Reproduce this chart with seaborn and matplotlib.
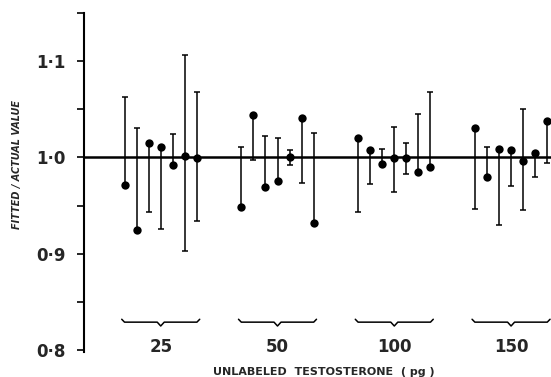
import numpy as np
import pandas as pd
import seaborn as sns
import matplotlib.pyplot as plt

# Fitted / actual ratios, 7 replicate curves per dose of unlabeled testosterone
doses = ['25', '50', '100', '150']

ratio_25 = [0.971, 0.925, 1.015, 1.011, 0.992, 1.001, 0.999]
low_25 = [0.971, 0.925, 0.943, 0.926, 0.992, 0.903, 0.934]
high_25 = [1.063, 1.031, 1.015, 1.011, 1.024, 1.106, 1.068]

ratio_50 = [0.949, 1.044, 0.969, 0.976, 1.000, 1.041, 0.932]
low_50 = [0.949, 0.997, 0.969, 0.976, 0.992, 0.973, 0.932]
high_50 = [1.011, 1.044, 1.022, 1.020, 1.008, 1.041, 1.025]

ratio_100 = [1.020, 1.008, 0.993, 0.999, 0.999, 0.985, 0.990]
low_100 = [0.943, 0.972, 0.993, 0.964, 0.983, 0.985, 0.990]
high_100 = [1.020, 1.008, 1.009, 1.032, 1.015, 1.045, 1.068]

ratio_150 = [1.031, 0.980, 1.009, 1.008, 0.996, 1.005, 1.038]
low_150 = [0.947, 0.980, 0.930, 0.970, 0.945, 0.980, 0.994]
high_150 = [1.031, 1.011, 1.009, 1.008, 1.050, 1.005, 1.038]

ratios = [ratio_25, ratio_50, ratio_100, ratio_150]
lows = [low_25, low_50, low_100, low_150]
highs = [high_25, high_50, high_100, high_150]

rows = []
for g, dose in enumerate(doses):
    for i in range(7):
        rows.append({'dose': dose, 'x': g + (i - 3) * 0.103,
                     'ratio': ratios[g][i], 'low': lows[g][i], 'high': highs[g][i]})
df = pd.DataFrame(rows)

sns.set_style('white')
plt.rcParams['font.family'] = ['DejaVu Sans']

fig = plt.figure(figsize=(5.51, 3.77), dpi=100)
ax = fig.add_axes([84 / 551, 1 - 352 / 377, 467 / 551, 339 / 377])

ax.axhline(1.0, color='black', lw=1.8, zorder=1)

ax.errorbar(df['x'], df['ratio'],
            yerr=[df['ratio'] - df['low'], df['high'] - df['ratio']],
            fmt='none', ecolor='black', elinewidth=1.1, capsize=2, capthick=1.1, zorder=2)
sns.scatterplot(data=df, x='x', y='ratio', color='black', s=36, edgecolor='black',
                linewidth=0, ax=ax, zorder=3, legend=False)

# braces under each dose group
bx = np.array([-0.334, -0.31, -0.03, 0.0, 0.03, 0.31, 0.334])
by = np.array([0.832, 0.829, 0.829, 0.825, 0.829, 0.829, 0.832])
for g in range(len(doses)):
    ax.plot(g + bx, by, color='black', lw=1.1)

ax.set_xlim(-0.657, 3.342)
ax.set_ylim(0.798, 1.15)

ax.set_yticks([0.8, 0.9, 1.0, 1.1])
ax.set_yticklabels(['0·8', '0·9', '1·0', '1·1'], fontsize=12, fontweight='bold')
ax.set_yticks([0.85, 0.95, 1.05, 1.15], minor=True)
ax.tick_params(axis='y', which='both', direction='out', length=5, width=1.2,
               color='black', pad=8, left=True)

ax.set_xticks(range(len(doses)))
ax.set_xticklabels(doses, fontsize=12, fontweight='bold')
ax.tick_params(axis='x', length=0, pad=-10)

for side in ['top', 'right', 'bottom']:
    ax.spines[side].set_visible(False)
ax.spines['left'].set_color('black')
ax.spines['left'].set_linewidth(1.5)

ax.set_xlabel('UNLABELED  TESTOSTERONE  ( pg )', fontsize=8, fontweight='bold', va='center')
ax.xaxis.set_label_coords(0.514, -0.059)
ax.set_ylabel('FITTED / ACTUAL VALUE', fontsize=7, fontweight='bold', style='italic', va='center')
ax.yaxis.set_label_coords(-0.1435, 0.552)

fig.savefig('out.png', dpi=100)
